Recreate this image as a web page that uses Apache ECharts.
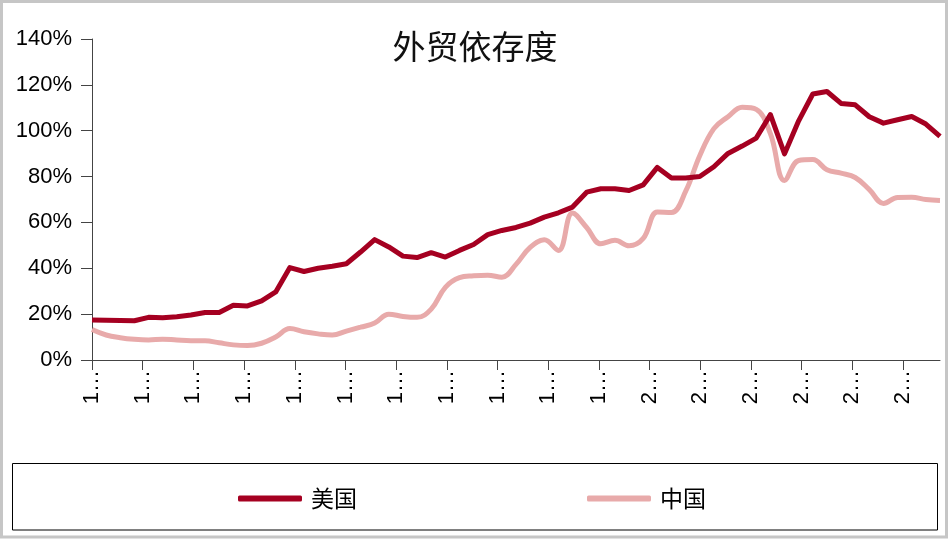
<!DOCTYPE html>
<html>
<head>
<meta charset="utf-8">
<title>外贸依存度</title>
<script src="https://cdn.jsdelivr.net/npm/echarts@6.0.0/dist/echarts.min.js"></script>
<style>
    html, body { margin: 0; padding: 0; background: #fff; }
    #box1 { width: 950px; height: 540px; }
</style>
</head>
<body>
<div id="box1"></div>
<script>
// 年份（类目）
var years = ['1960', '1961', '1962', '1963', '1964', '1965', '1966', '1967', '1968', '1969',
    '1970', '1971', '1972', '1973', '1974', '1975', '1976', '1977', '1978', '1979',
    '1980', '1981', '1982', '1983', '1984', '1985', '1986', '1987', '1988', '1989',
    '1990', '1991', '1992', '1993', '1994', '1995', '1996', '1997', '1998', '1999',
    '2000', '2001', '2002', '2003', '2004', '2005', '2006', '2007', '2008', '2009',
    '2010', '2011', '2012', '2013', '2014', '2015', '2016', '2017', '2018', '2019', '2020']

// 横轴刻度标签（图中被截断为 "1…" / "2…"）
var tickLabels = ['1960', '1964', '1967', '1971', '1974', '1978', '1982', '1985', '1989',
    '1992', '1996', '2000', '2003', '2007', '2010', '2014', '2018']

// 外贸依存度 %
var usa = [17.4, 17.3, 17.2, 17.1, 18.6, 18.4, 18.9, 19.6, 20.7, 20.7,
    23.9, 23.6, 25.8, 29.7, 40.3, 38.6, 40.0, 40.9, 42.0, 47.1,
    52.5, 49.3, 45.3, 44.7, 46.8, 44.9, 47.8, 50.4, 54.7, 56.5,
    57.8, 59.7, 62.3, 64.2, 66.7, 73.2, 74.7, 74.7, 73.9, 76.4,
    84.0, 79.4, 79.4, 80.0, 84.3, 90.1, 93.3, 96.8, 107.0, 89.9,
    104.3, 116.0, 117.1, 111.9, 111.3, 106.1, 103.3, 104.8, 106.2, 102.9, 97.5]

var china = [13.3, 10.9, 9.7, 9.0, 8.7, 9.1, 8.7, 8.4, 8.4, 7.5,
    6.6, 6.3, 7.3, 10.0, 13.7, 12.3, 11.4, 10.9, 12.6, 14.3,
    16.1, 20.0, 19.0, 18.6, 22.2, 31.7, 35.9, 36.7, 37.0, 36.1,
    41.7, 49.1, 52.4, 47.8, 64.1, 57.8, 50.7, 52.2, 49.8, 53.0,
    64.5, 64.3, 73.5, 89.1, 100.9, 106.1, 110.2, 109.3, 98.7, 78.3,
    87.0, 87.4, 83.0, 81.5, 79.6, 74.3, 68.3, 70.9, 71.0, 70.0, 69.6]

var axisColor = '#444'
var numFont = '"Liberation Sans", Arial, sans-serif'
var cjkFont = '"Noto Sans CJK SC", sans-serif'

var first = echarts.init(document.getElementById('box1'))
var option = {
    backgroundColor: '#fff',
    animation: false,
    title: {
        text: '外贸依存度',
        left: 'center',
        top: 25,
        textStyle: {
            fontFamily: cjkFont,
            fontSize: 33,
            fontWeight: 'normal',
            color: '#111'
        }
    },
    legend: {
        data: ['美国', '中国'],
        left: 238,
        top: 487,
        padding: 0,
        icon: 'roundRect',
        itemWidth: 64,
        itemHeight: 6,
        itemGap: 230,
        textStyle: {
            fontFamily: cjkFont,
            fontSize: 23,
            color: '#000',
            padding: [2, 0, 0, 4]
        }
    },
    grid: [
        // 数据
        { left: 92, right: 10, top: 39, bottom: 180 },
        // 只用来画刻度
        { left: 92, right: 47, top: 39, bottom: 180 }
    ],
    xAxis: [
        {
            type: 'category',
            gridIndex: 0,
            data: years,
            boundaryGap: false,
            axisLine: { lineStyle: { color: axisColor, width: 1 } },
            axisTick: { show: false },
            axisLabel: { show: false }
        },
        {
            type: 'category',
            gridIndex: 1,
            data: tickLabels,
            boundaryGap: false,
            axisLine: { show: false },
            axisTick: {
                show: true,
                interval: 0,
                length: 10,
                lineStyle: { color: axisColor }
            },
            axisLabel: {
                interval: 0,
                rotate: 90,
                margin: 10,
                width: 36,
                overflow: 'truncate',
                ellipsis: '…',
                fontFamily: numFont,
                fontSize: 22,
                color: '#000'
            }
        }
    ],
    yAxis: [
        {
            type: 'value',
            gridIndex: 0,
            min: 0,
            max: 140,
            interval: 20,
            axisLine: { show: true, lineStyle: { color: axisColor, width: 1 } },
            axisTick: { show: true, length: 11, lineStyle: { color: axisColor } },
            splitLine: { show: false },
            axisLabel: {
                formatter: '{value}%',
                margin: 20,
                fontFamily: numFont,
                fontSize: 22,
                color: '#000'
            }
        },
        {
            type: 'value',
            gridIndex: 1,
            min: 0,
            max: 140,
            show: false
        }
    ],
    series: [
        {
            name: '美国',
            type: 'line',
            xAxisIndex: 0,
            yAxisIndex: 0,
            data: usa,
            showSymbol: false,
            symbol: 'none',
            z: 3,
            itemStyle: { color: '#A50021' },
            lineStyle: { color: '#A50021', width: 5, join: 'round' }
        },
        {
            name: '中国',
            type: 'line',
            xAxisIndex: 0,
            yAxisIndex: 0,
            data: china,
            smooth: 0.4,
            showSymbol: false,
            symbol: 'none',
            z: 2,
            itemStyle: { color: '#E8AAAA' },
            lineStyle: { color: '#E8AAAA', width: 5 }
        }
    ],
    graphic: [
        {
            // 外框
            type: 'rect',
            z: -10,
            shape: { x: 1.5, y: 1.5, width: 945, height: 535.5 },
            style: { fill: 'none', stroke: '#c6c6c6', lineWidth: 3 }
        },
        {
            // 图例框
            type: 'rect',
            z: -10,
            shape: { x: 12.5, y: 463.5, width: 925, height: 66.5 },
            style: { fill: 'none', stroke: '#000', lineWidth: 1 }
        }
    ]
}
first.setOption(option)
</script>
</body>
</html>
